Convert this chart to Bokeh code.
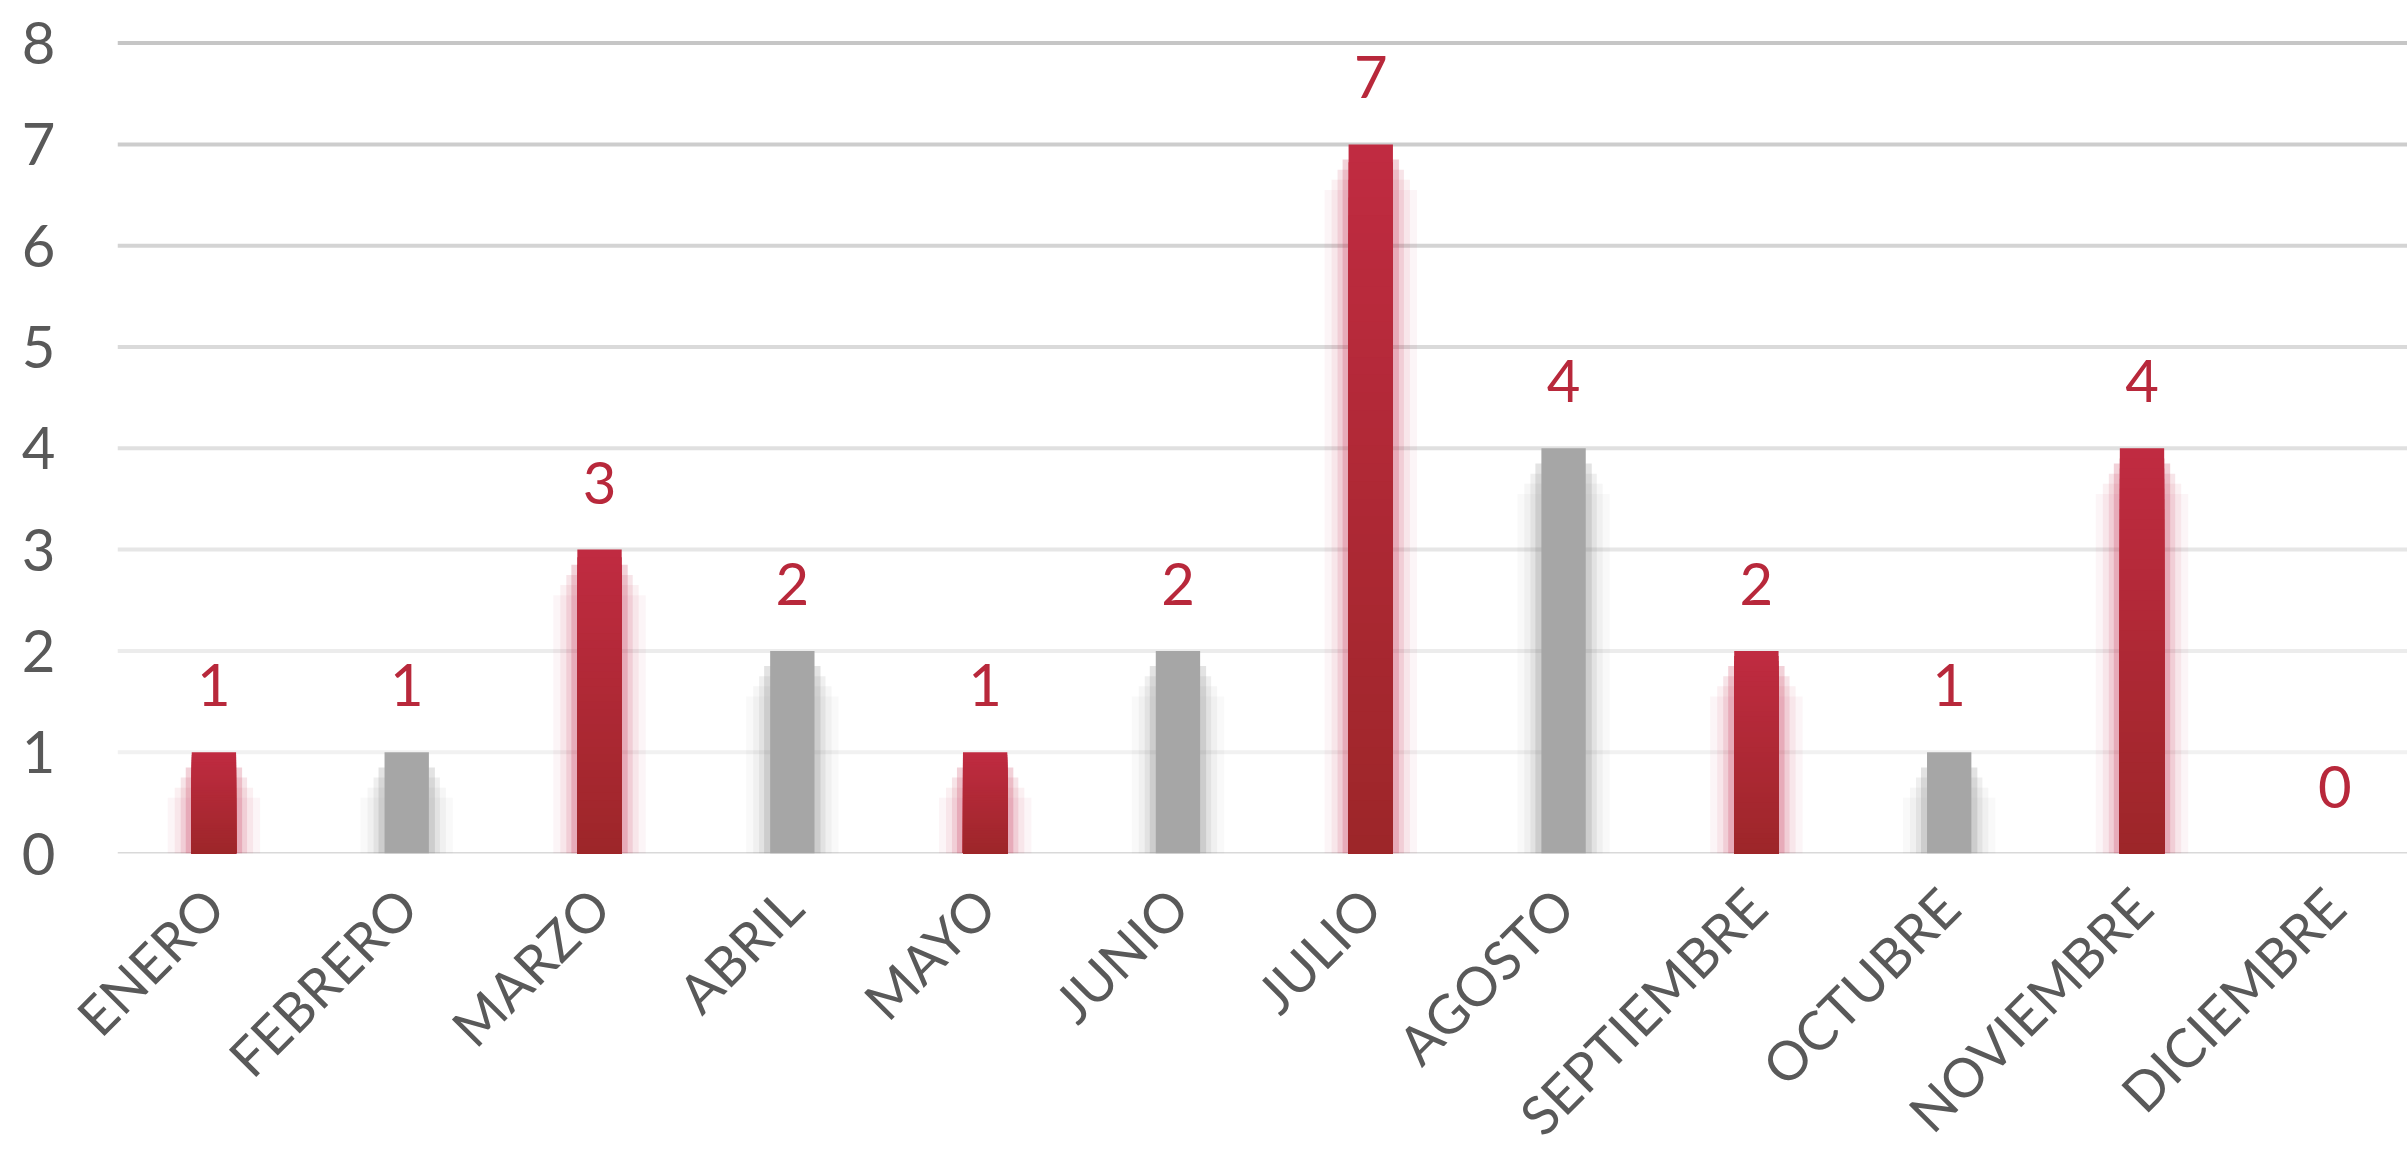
from bokeh.plotting import figure
from bokeh.models import Range1d, FixedTicker, Span
from bokeh.core.properties import value
from bokeh.embed import file_html
from bokeh.resources import INLINE
import math

# ---- data ----
months = ["ENERO", "FEBRERO", "MARZO", "ABRIL", "MAYO", "JUNIO", "JULIO",
          "AGOSTO", "SEPTIEMBRE", "OCTUBRE", "NOVIEMBRE", "DICIEMBRE"]
counts = [1, 1, 3, 2, 1, 2, 7, 4, 2, 1, 4, 0]
highlight = [True, False, True, False, True, False, True, False, True, False, True, True]
y_ticks = [0, 1, 2, 3, 4, 5, 6, 7, 8]

# ---- style ----
FONT = "Lato"
RED_TOP = (0xC0, 0x2B, 0x41)
RED_BOT = (0x9D, 0x26, 0x29)
GRAY = "#A6A6A6"
LABEL_RED = "#B8283B"
TEXT_GRAY = "#595959"
grid_colors = ["#D9D9D9", "#F1F1F1", "#ECECEC", "#E6E6E6", "#E0E0E0",
               "#DADADA", "#D4D4D4", "#CDCDCD", "#C6C6C6"]

BAR_W = 0.23
PX_X = 192.8  # px per category (for shadow widths)

p = figure(width=2407, height=1175,
           x_range=Range1d(-0.5, 11.377), y_range=Range1d(0, 8.243),
           output_backend="svg", toolbar_location=None,
           min_border_left=117, min_border_right=0,
           min_border_top=18, min_border_bottom=322)
p.outline_line_color = None
p.background_fill_color = "white"
p.border_fill_color = "white"
p.xgrid.grid_line_color = None
p.ygrid.grid_line_color = None

# gridlines
for t, c in zip(y_ticks, grid_colors):
    p.add_layout(Span(location=t, dimension="width", line_color=c,
                      line_width=3 if t == 0 else 4, level="underlay"))

xs = list(range(len(months)))

# soft shadows / glow
for extra, alpha, drop in [(48, 0.05, 0.45), (34, 0.08, 0.35),
                           (22, 0.14, 0.25), (12, 0.24, 0.15)]:
    for i, v in enumerate(counts):
        if v <= 0:
            continue
        col = "#C8405A" if highlight[i] else "#8C8C8C"
        top = max(v - drop, 0)
        p.vbar(x=[i], width=BAR_W + extra / PX_X, bottom=[0], top=[top],
               fill_color=col, fill_alpha=alpha, line_color=None)

# bars: gray solid, red with vertical gradient (overdrawn, no seams)
N = 40
for i, v in enumerate(counts):
    if v <= 0:
        continue
    if not highlight[i]:
        p.vbar(x=[i], width=BAR_W, bottom=[0], top=[v],
               fill_color=GRAY, line_color=None)
    else:
        tops, cols = [], []
        for s in range(N - 1, -1, -1):
            f = (s + 0.5) / N  # 0 bottom -> 1 top
            rgb = tuple(int(round(RED_BOT[j] + (RED_TOP[j] - RED_BOT[j]) * f)) for j in range(3))
            tops.append(v * (s + 1) / N)
            cols.append("#%02X%02X%02X" % rgb)
        p.vbar(x=[i] * N, width=BAR_W, bottom=[0] * N, top=tops,
               fill_color=cols, line_color=None)

# value labels
p.text(x=xs, y=counts, text=[str(c) for c in counts],
       text_font=value(FONT), text_font_size="58px", text_color=LABEL_RED,
       text_align="center", text_baseline="middle", y_offset=-67)

# axes
p.xaxis.ticker = FixedTicker(ticks=xs)
p.xaxis.major_label_overrides = {i: m for i, m in enumerate(months)}
p.xaxis.major_label_orientation = math.pi / 4
p.xaxis.major_label_text_font = FONT
p.xaxis.major_label_text_font_size = "54px"
p.xaxis.major_label_text_color = TEXT_GRAY
p.xaxis.major_label_standoff = 38

p.yaxis.ticker = FixedTicker(ticks=y_ticks)
p.yaxis.major_label_text_font = FONT
p.yaxis.major_label_text_font_size = "58px"
p.yaxis.major_label_text_color = TEXT_GRAY
p.yaxis.major_label_standoff = 56

for ax in (p.xaxis, p.yaxis):
    ax.axis_line_color = None
    ax.major_tick_line_color = None
    ax.minor_tick_line_color = None

open("out.html", "w").write(file_html(p, INLINE))
